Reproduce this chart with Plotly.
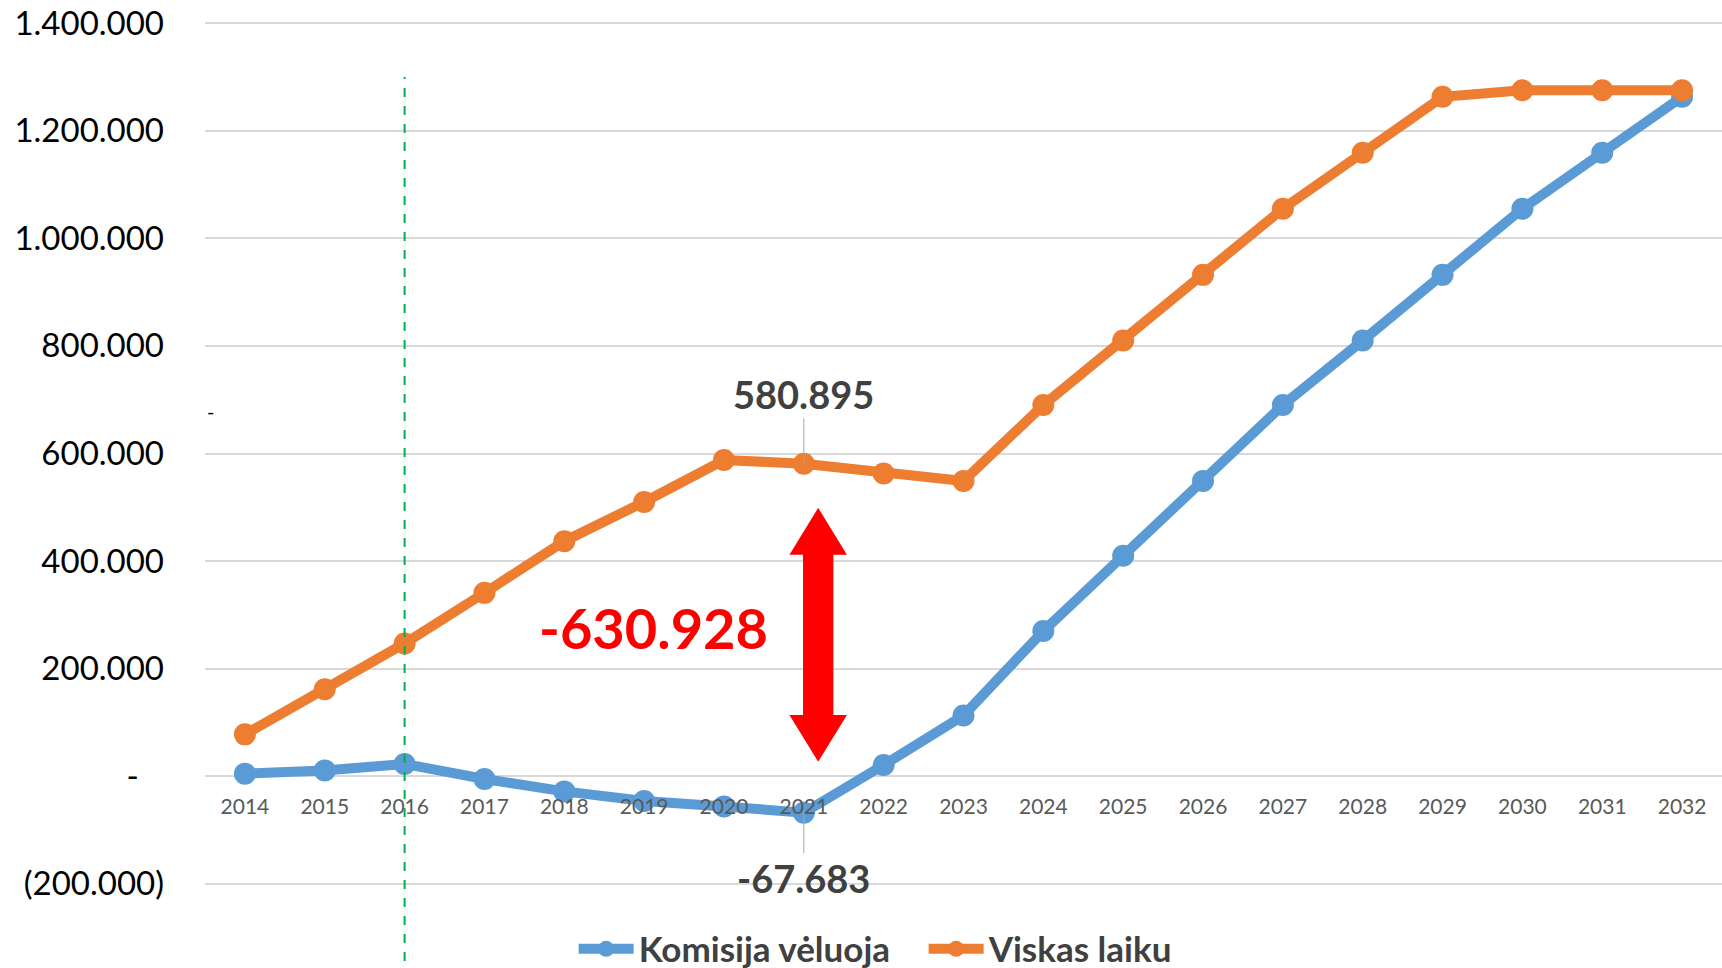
import plotly.graph_objects as go

years = list(range(2014, 2033))
komisija_veluoja = [5000, 11000, 23000, -5000, -28000, -46000, -56000, -67683, 21000, 113000,
                    270000, 410000, 549000, 690000, 810000, 932000, 1055000, 1159000, 1263000]
viskas_laiku = [78000, 162000, 247000, 341000, 437000, 510000, 588000, 580895, 563000, 549000,
                690000, 810000, 932000, 1055000, 1159000, 1263000, 1275000, 1275000, 1275000]
y_tickvals = [-200000, 0, 200000, 400000, 600000, 800000, 1000000, 1200000, 1400000]
y_ticktext = ["(200.000)", "-\u00a0\u00a0\u00a0", "200.000", "400.000", "600.000", "800.000",
              "1.000.000", "1.200.000", "1.400.000"]
gap_label = "-630.928"

BLUE = "#5B9BD5"
ORANGE = "#ED7D31"
FONT = "Lato"
Y_MIN, Y_MAX = -202000, 1402000

def fmt(v):
    return f"{v:,.0f}".replace(",", ".")

fig = go.Figure()
fig.add_trace(go.Scatter(x=years, y=komisija_veluoja, name="Komisija vėluoja", mode="lines+markers",
                         line=dict(color=BLUE, width=10), marker=dict(color=BLUE, size=22)))
fig.add_trace(go.Scatter(x=years, y=viskas_laiku, name="Viskas laiku", mode="lines+markers",
                         line=dict(color=ORANGE, width=10), marker=dict(color=ORANGE, size=22)))

# data labels at 2021
i21 = years.index(2021)
fig.add_annotation(x=years[i21], y=viskas_laiku[i21], text=fmt(viskas_laiku[i21]),
                   showarrow=True, arrowhead=0, arrowwidth=1, arrowcolor="#A6A6A6",
                   ax=0, ay=-70, standoff=0,
                   font=dict(family=FONT, size=38, color="#404040", weight="bold"))
fig.add_annotation(x=years[i21], y=komisija_veluoja[i21], text=fmt(komisija_veluoja[i21]),
                   showarrow=True, arrowhead=0, arrowwidth=1, arrowcolor="#A6A6A6",
                   ax=0, ay=65, standoff=0,
                   font=dict(family=FONT, size=38, color="#404040", weight="bold"))

# gap label
fig.add_annotation(x=2019.12, y=277000, text=gap_label, showarrow=False,
                   font=dict(family=FONT, size=56, color="#FF0000", weight="bold"))

# stray dash
fig.add_annotation(xref="paper", x=0.0, y=679000, text="-", showarrow=False,
                   font=dict(family=FONT, size=20, color="#000000"))

# red double arrow
xc, hs, hh = 2021.18, 0.19, 0.36
ytop, ybot, hl = 499000, 27000, 87000
pts = [(xc, ytop), (xc + hh, ytop - hl), (xc + hs, ytop - hl), (xc + hs, ybot + hl),
       (xc + hh, ybot + hl), (xc, ybot), (xc - hh, ybot + hl), (xc - hs, ybot + hl),
       (xc - hs, ytop - hl), (xc - hh, ytop - hl)]
path = "M " + " L ".join(f"{px},{py}" for px, py in pts) + " Z"
fig.add_shape(type="path", path=path, xref="x", yref="y", fillcolor="#FF0000",
              line=dict(width=0), layer="above")

# green dashed vertical line at 2016
fig.add_shape(type="line", xref="x", yref="paper", x0=2016, x1=2016, y0=-0.088, y1=0.9363,
              line=dict(color="#00B050", width=2, dash="dash"), layer="above")

fig.update_layout(
    width=1722, height=968,
    margin=dict(l=205, r=0, t=22, b=83, autoexpand=False),
    paper_bgcolor="white", plot_bgcolor="white",
    showlegend=True,
    legend=dict(orientation="h", x=0.243, xanchor="left", y=-0.0742, yanchor="middle",
                font=dict(family=FONT, size=35, color="#404040", weight="bold"),
                itemwidth=55, entrywidth=280, tracegroupgap=0, bgcolor="rgba(0,0,0,0)"),
    xaxis=dict(range=[2013.5, 2032.5], tickvals=years, ticktext=[str(y) for y in years],
               showgrid=False, zeroline=False, showline=False, automargin=False,
               anchor="free", position=(0 - Y_MIN) / (Y_MAX - Y_MIN),
               ticks="outside", ticklen=11, tickcolor="rgba(0,0,0,0)",
               tickfont=dict(family=FONT, size=21, color="#595959")),
    yaxis=dict(range=[Y_MIN, Y_MAX], tickvals=y_tickvals, ticktext=y_ticktext,
               showgrid=True, gridcolor="#D9D9D9", gridwidth=2, zeroline=False, showline=False,
               ticklabelstandoff=40, automargin=False,
               tickfont=dict(family=FONT, size=33, color="#000000")),
)

fig.write_html("out.html", config={"displayModeBar": False},
               post_script="document.body.style.margin='0';document.body.style.overflow='hidden';")
